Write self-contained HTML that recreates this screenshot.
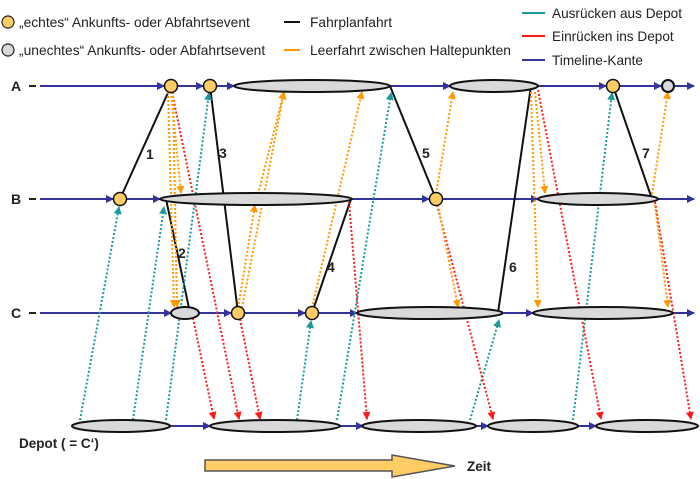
<!DOCTYPE html>
<html><head><meta charset="utf-8"><style>
html,body{margin:0;padding:0;background:#fff;}
svg{display:block;font-family:"Liberation Sans",Arial,sans-serif;}
</style></head><body>
<svg width="700" height="479" viewBox="0 0 700 479" xmlns="http://www.w3.org/2000/svg">
<defs>
<marker id="mb" markerWidth="8" markerHeight="8" refX="7" refY="4" orient="auto" markerUnits="userSpaceOnUse"><path d="M0,0 L8,4 L0,8 z" fill="#333399"/></marker>
<marker id="mt" markerWidth="8" markerHeight="8" refX="7" refY="4" orient="auto" markerUnits="userSpaceOnUse"><path d="M0,0 L8,4 L0,8 z" fill="#1a9a9a"/></marker>
<marker id="mr" markerWidth="8" markerHeight="8" refX="7" refY="4" orient="auto" markerUnits="userSpaceOnUse"><path d="M0,0 L8,4 L0,8 z" fill="#ff1a1a"/></marker>
<marker id="mo" markerWidth="8" markerHeight="8" refX="7" refY="4" orient="auto" markerUnits="userSpaceOnUse"><path d="M0,0 L8,4 L0,8 z" fill="#ff9900"/></marker>
</defs>

<!-- legend -->
<circle cx="8" cy="22" r="6" fill="#ffcc66" stroke="#222" stroke-width="1.2"/>
<text x="19" y="27" font-size="13.8" fill="#222">„echtes“ Ankunfts- oder Abfahrtsevent</text>
<circle cx="8" cy="50" r="6" fill="#d9d9d9" stroke="#222" stroke-width="1.2"/>
<text x="19" y="55" font-size="13.8" fill="#222">„unechtes“ Ankunfts- oder Abfahrtsevent</text>
<line x1="284" y1="22" x2="300" y2="22" stroke="#111" stroke-width="2"/>
<text x="310" y="27" font-size="13.8" fill="#222">Fahrplanfahrt</text>
<line x1="284" y1="50" x2="300" y2="50" stroke="#ff9900" stroke-width="2"/>
<text x="310" y="55" font-size="13.8" fill="#222">Leerfahrt zwischen Haltepunkten</text>
<line x1="522" y1="13" x2="545" y2="13" stroke="#1a9a9a" stroke-width="2"/>
<text x="552" y="18" font-size="13.6" fill="#222">Ausrücken aus Depot</text>
<line x1="522" y1="36" x2="545" y2="36" stroke="#ff1a1a" stroke-width="2"/>
<text x="552" y="41" font-size="13.6" fill="#222">Einrücken ins Depot</text>
<line x1="522" y1="60" x2="545" y2="60" stroke="#333399" stroke-width="2"/>
<text x="552" y="65" font-size="13.6" fill="#222">Timeline-Kante</text>

<!-- row labels -->
<g font-size="14" font-weight="bold" fill="#222">
<text x="11" y="91">A</text><text x="11" y="204">B</text><text x="11" y="318">C</text>
<text x="19" y="448" font-size="13.5">Depot ( = C‘)</text>
</g>
<g stroke="#222" stroke-width="2">
<line x1="29" y1="86" x2="36" y2="86"/><line x1="29" y1="199" x2="36" y2="199"/><line x1="29" y1="313" x2="36" y2="313"/>
</g>

<!-- timelines -->
<g stroke="#333399" stroke-width="2" fill="none" marker-end="url(#mb)">
<line x1="40" y1="86" x2="164" y2="86"/><line x1="178" y1="86" x2="203" y2="86"/><line x1="217" y1="86" x2="234" y2="86"/>
<line x1="390" y1="86" x2="450" y2="86"/><line x1="538" y1="86" x2="606" y2="86"/><line x1="620" y1="86" x2="661" y2="86"/><line x1="675" y1="86" x2="694" y2="86"/>
<line x1="40" y1="199" x2="113" y2="199"/><line x1="127" y1="199" x2="160" y2="199"/><line x1="352" y1="199" x2="429" y2="199"/><line x1="443" y1="199" x2="538" y2="199"/><line x1="658" y1="199" x2="694" y2="199"/>
<line x1="40" y1="313" x2="171" y2="313"/><line x1="199" y1="313" x2="231" y2="313"/><line x1="245" y1="313" x2="305" y2="313"/><line x1="319" y1="313" x2="357" y2="313"/><line x1="504" y1="313" x2="533" y2="313"/><line x1="673" y1="313" x2="694" y2="313"/>
<line x1="170" y1="426" x2="210" y2="426"/><line x1="340" y1="426" x2="363" y2="426"/><line x1="476" y1="426" x2="488" y2="426"/><line x1="578" y1="426" x2="596" y2="426"/>
</g>

<!-- trips (black) -->
<g stroke="#111" stroke-width="2">
<line x1="120" y1="199" x2="171" y2="86"/>
<line x1="210" y1="86" x2="238" y2="313"/>
<line x1="166" y1="199" x2="190" y2="313"/>
<line x1="312" y1="313" x2="351" y2="199"/>
<line x1="390" y1="86" x2="436" y2="199"/>
<line x1="531" y1="86" x2="498" y2="313"/>
<line x1="613" y1="86" x2="652" y2="199"/>
</g>
<g font-size="14" font-weight="bold" fill="#222">
<text x="146" y="159">1</text><text x="219" y="158">3</text><text x="178" y="258">2</text><text x="327" y="272">4</text>
<text x="422" y="158">5</text><text x="509" y="272">6</text><text x="642" y="158">7</text>
</g>

<!-- teal -->
<g stroke="#1a9a9a" stroke-width="2" stroke-dasharray="2,2" fill="none" marker-end="url(#mt)">
<line x1="80" y1="420" x2="119" y2="207"/>
<line x1="133" y1="420" x2="164" y2="207"/>
<line x1="166" y1="420" x2="209" y2="93"/>
<line x1="297" y1="420" x2="311" y2="321"/>
<line x1="337" y1="420" x2="391" y2="93"/>
<line x1="470" y1="420" x2="499" y2="320"/>
<line x1="573" y1="420" x2="612" y2="93"/>
</g>
<!-- red -->
<g stroke="#ff1a1a" stroke-width="2" stroke-dasharray="2,2" fill="none" marker-end="url(#mr)">
<line x1="193" y1="318" x2="214" y2="419"/>
<line x1="172" y1="92" x2="239" y2="419"/>
<line x1="240" y1="319" x2="260" y2="419"/>
<line x1="349" y1="202" x2="367" y2="419"/>
<line x1="437" y1="205" x2="493" y2="419"/>
<line x1="538" y1="90" x2="601" y2="419"/>
<line x1="655" y1="202" x2="691" y2="419"/>
</g>
<!-- orange -->
<g stroke="#ff9900" stroke-width="2" stroke-dasharray="2,2" fill="none" marker-end="url(#mo)">
<line x1="171" y1="92" x2="181" y2="193"/>
<line x1="173" y1="92" x2="177" y2="307"/>
<line x1="168" y1="92" x2="174" y2="307"/>
<line x1="238" y1="308" x2="255" y2="205"/>
<line x1="242" y1="308" x2="284" y2="92"/>
<line x1="255" y1="206" x2="284" y2="92"/>
<line x1="312" y1="308" x2="362" y2="92"/>
<line x1="436" y1="194" x2="453" y2="92"/>
<line x1="438" y1="205" x2="458" y2="307"/>
<line x1="535" y1="92" x2="545" y2="193"/>
<line x1="531" y1="92" x2="538" y2="307"/>
<line x1="652" y1="194" x2="668" y2="92"/>
<line x1="655" y1="205" x2="668" y2="307"/>
</g>

<!-- nodes -->
<g stroke="#111" stroke-width="2" fill="#d9d9d9">
<ellipse cx="312" cy="86" rx="78" ry="6"/>
<ellipse cx="494" cy="86" rx="44" ry="6"/>
<ellipse cx="256" cy="199" rx="96" ry="6"/>
<ellipse cx="598" cy="199" rx="60" ry="6"/>
<ellipse cx="185" cy="313" rx="14" ry="6"/>
<ellipse cx="430" cy="313" rx="73" ry="6"/>
<ellipse cx="603" cy="313" rx="70" ry="6"/>
<ellipse cx="121" cy="426" rx="49" ry="6"/>
<ellipse cx="275" cy="426" rx="65" ry="6"/>
<ellipse cx="419" cy="426" rx="57" ry="6"/>
<ellipse cx="533" cy="426" rx="45" ry="6"/>
<ellipse cx="647" cy="426" rx="51" ry="6"/>
<circle cx="668" cy="86" r="6"/>
</g>
<g stroke="#111" stroke-width="1.5" fill="#ffcc66">
<circle cx="171" cy="86" r="6.5"/><circle cx="210" cy="86" r="6.5"/><circle cx="613" cy="86" r="6.5"/>
<circle cx="120" cy="199" r="6.5"/><circle cx="436" cy="199" r="6.5"/>
<circle cx="238" cy="313" r="6.5"/><circle cx="312" cy="313" r="6.5"/>
</g>

<!-- Zeit arrow -->
<path d="M205,460 L392,460 L392,455 L455,466 L392,477 L392,471 L205,471 Z" fill="#ffcc66" stroke="#555" stroke-width="1.5"/>
<text x="467" y="471" font-size="13.5" font-weight="bold" fill="#222">Zeit</text>
</svg>
</body></html>
